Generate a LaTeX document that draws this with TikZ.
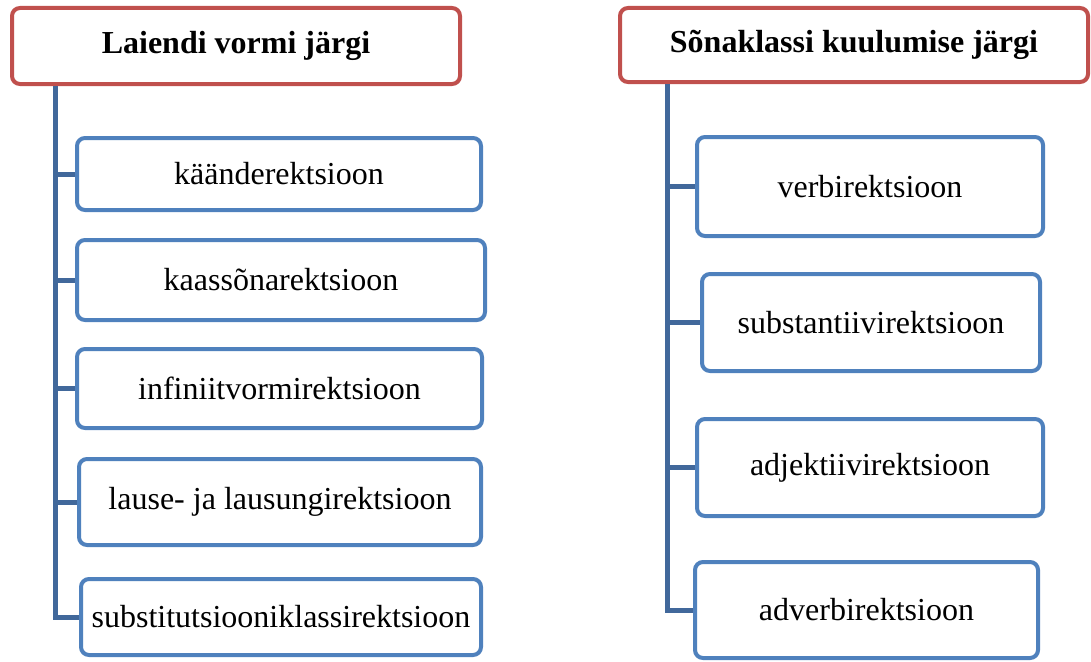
\documentclass[tikz,border=0pt]{standalone}
\usepackage{fontspec}
\setmainfont{Liberation Serif}
\definecolor{hdred}{HTML}{C0504D}
\definecolor{bxblue}{HTML}{4F81BD}
\definecolor{lnblue}{HTML}{41689B}
\tikzset{
  hdbox/.style={draw=hdred, line width=4pt, rounded corners=8pt, fill=white, inner sep=0pt, align=center, font=\fontsize{32}{38}\selectfont\bfseries},
  itembox/.style={draw=bxblue, line width=4pt, rounded corners=8pt, fill=white, inner sep=0pt, align=center, font=\fontsize{32}{38}\selectfont},
  trunk/.style={draw=lnblue, line width=5pt, line cap=butt}
}
\begin{document}
\begin{tikzpicture}[x=1pt,y=-1pt]
\useasboundingbox (0,0) rectangle (1091,661);
% left column
\node[hdbox, minimum width=448pt, minimum height=76pt] (lh) at (236,46) {Laiendi vormi järgi};
\node[itembox, minimum width=404pt, minimum height=72pt] (l1) at (279,174) {käänderektsioon};
\node[itembox, minimum width=408pt, minimum height=80pt] (l2) at (281,280) {kaassõnarektsioon};
\node[itembox, minimum width=405pt, minimum height=79pt] (l3) at (279.5,388.5) {infiniitvormirektsioon};
\node[itembox, minimum width=402pt, minimum height=86pt] (l4) at (280,502) {lause- ja lausungirektsioon};
\node[itembox, minimum width=400pt, minimum height=76pt] (l5) at (281,617) {substitutsiooniklassirektsioon};
\coordinate (lt) at (55,86);
% right column
\node[hdbox, minimum width=468pt, minimum height=74pt] (rh) at (854,45) {Sõnaklassi kuulumise järgi};
\node[itembox, minimum width=346pt, minimum height=99pt] (r1) at (870,186.5) {verbirektsioon};
\node[itembox, minimum width=338pt, minimum height=97pt] (r2) at (871,322.5) {substantiivirektsioon};
\node[itembox, minimum width=346pt, minimum height=97pt] (r3) at (870,467.5) {adjektiivirektsioon};
\node[itembox, minimum width=343pt, minimum height=96pt] (r4) at (866.5,610) {adverbirektsioon};
\coordinate (rt) at (667,84);
% connectors
\begin{scope}[on background layer/.try]
\draw[trunk] (lt) -- (lt |- l5.west) -- (l5.west);
\draw[trunk] (lt |- l1.west) -- (l1.west);
\draw[trunk] (lt |- l2.west) -- (l2.west);
\draw[trunk] (lt |- l3.west) -- (l3.west);
\draw[trunk] (lt |- l4.west) -- (l4.west);
\draw[trunk] (rt) -- (rt |- r4.west) -- (r4.west);
\draw[trunk] (rt |- r1.west) -- (r1.west);
\draw[trunk] (rt |- r2.west) -- (r2.west);
\draw[trunk] (rt |- r3.west) -- (r3.west);
\end{scope}
\end{tikzpicture}
\end{document}
